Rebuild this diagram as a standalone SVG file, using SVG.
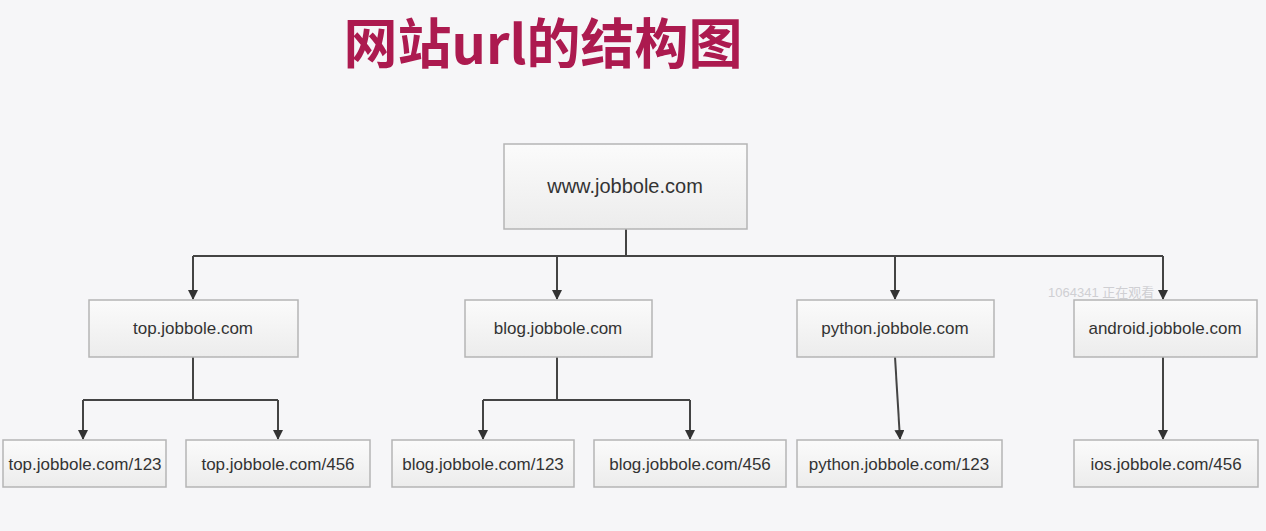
<svg xmlns="http://www.w3.org/2000/svg" width="1266" height="531" viewBox="0 0 1266 531">
<defs>
<linearGradient id="g" x1="0" y1="0" x2="0" y2="1">
<stop offset="0" stop-color="#fbfbfb"/>
<stop offset="1" stop-color="#ececec"/>
</linearGradient>
<marker id="ar" viewBox="0 0 10 10" refX="9" refY="5" markerWidth="10" markerHeight="10" markerUnits="userSpaceOnUse" orient="auto">
<path d="M0,0 L10,5 L0,10 Z" fill="#333"/>
</marker>
<style>
.box{fill:url(#g);stroke:#b5b5b5;stroke-width:1.5}
.t{font-family:"Liberation Sans","DejaVu Sans",sans-serif;font-size:17px;fill:#333;text-anchor:middle;dominant-baseline:central}
.c{fill:none;stroke:#444;stroke-width:2}
.a{fill:none;stroke:#444;stroke-width:2;marker-end:url(#ar)}
</style>
</defs>
<rect width="1266" height="531" fill="#f6f6f8"/>
<text x="543" y="64" font-family="'Noto Sans CJK SC',sans-serif" font-weight="bold" font-size="54" fill="#ac1a4f" text-anchor="middle">网站url的结构图</text>
<text x="1048" y="297" font-family="'Liberation Sans','Noto Sans CJK SC',sans-serif" font-size="13" fill="#cfcfd3">1064341 正在观看</text>
<g id="connectors">
<path class="c" d="M626,229 V256 M193,256 H1163"/>
<path class="a" d="M193,256 V299"/>
<path class="a" d="M557,256 V299"/>
<path class="a" d="M895,256 V299"/>
<path class="a" d="M1163,256 V299"/>
<path class="c" d="M193,357 V400 M83,400 H278"/>
<path class="a" d="M83,400 V439"/>
<path class="a" d="M278,400 V439"/>
<path class="c" d="M557,357 V400 M483,400 H690"/>
<path class="a" d="M483,400 V439"/>
<path class="a" d="M690,400 V439"/>
<path class="a" d="M895,357 L900,439"/>
<path class="a" d="M1163,357 V439"/>
</g>
<g id="n-root"><rect class="box" x="504" y="144" width="243" height="85"/><text class="t" x="625" y="186" style="font-size:20px">www.jobbole.com</text></g>
<g id="n-top"><rect class="box" x="89" y="300" width="209" height="57"/><text class="t" x="193" y="328">top.jobbole.com</text></g>
<g id="n-blog"><rect class="box" x="465" y="300" width="187" height="57"/><text class="t" x="558" y="328">blog.jobbole.com</text></g>
<g id="n-python"><rect class="box" x="797" y="300" width="197" height="57"/><text class="t" x="895" y="328">python.jobbole.com</text></g>
<g id="n-android"><rect class="box" x="1074" y="300" width="183" height="57"/><text class="t" x="1165" y="328">android.jobbole.com</text></g>
<g id="n-top123"><rect class="box" x="3" y="440" width="163" height="47"/><text class="t" x="85" y="464">top.jobbole.com/123</text></g>
<g id="n-top456"><rect class="box" x="186" y="440" width="184" height="47"/><text class="t" x="278" y="464">top.jobbole.com/456</text></g>
<g id="n-blog123"><rect class="box" x="392" y="440" width="182" height="47"/><text class="t" x="483" y="464">blog.jobbole.com/123</text></g>
<g id="n-blog456"><rect class="box" x="594" y="440" width="192" height="47"/><text class="t" x="690" y="464">blog.jobbole.com/456</text></g>
<g id="n-python123"><rect class="box" x="797" y="440" width="205" height="47"/><text class="t" x="899" y="464">python.jobbole.com/123</text></g>
<g id="n-ios"><rect class="box" x="1074" y="440" width="184" height="47"/><text class="t" x="1166" y="464">ios.jobbole.com/456</text></g>
</svg>
